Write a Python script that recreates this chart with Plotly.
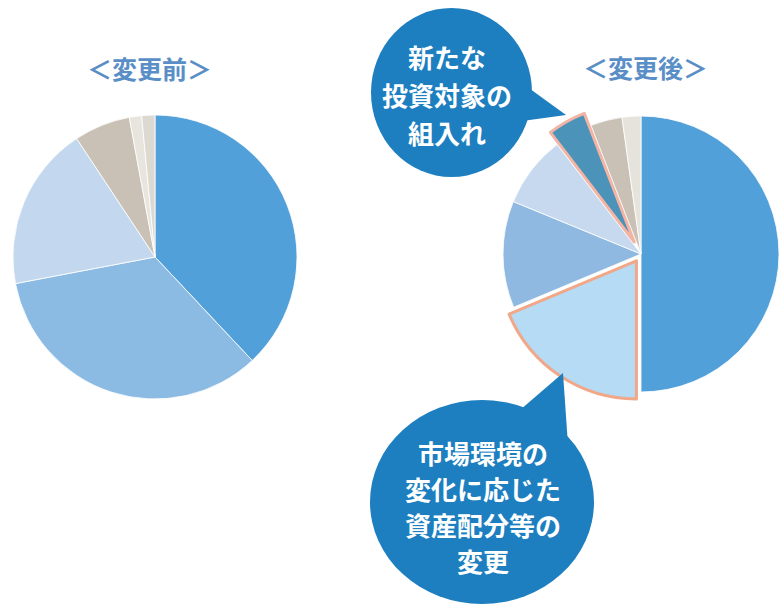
import math
import plotly.graph_objects as go

W, H = 779, 607

# ---------------- data ----------------
left_labels = ["資産A", "資産B", "資産C", "資産D", "資産E", "資産F"]
left_values = [38.0, 34.0, 18.7, 6.4, 1.4, 1.5]
left_colors = ["#52a0d9", "#8bbae3", "#c3d8ee", "#c9c1b5", "#e8e5de", "#dcd9d2"]

right_labels = ["資産A", "資産B", "資産C", "資産D", "新資産", "資産E", "資産F"]
right_values = [50.0, 18.7, 12.5, 8.4, 4.5, 3.7, 2.2]
right_colors = ["#52a0d9", "#b6dbf5", "#8fb9e0", "#c6d9ee", "#4b93b8", "#c9c1b5", "#e6e3dc"]
right_pull = [0, 0.06, 0, 0, 0.10, 0, 0]
highlight_line = ["", "#f0a888", "", "", "#f2b4a4", "", ""]

title_left = "＜変更前＞"
title_right = "＜変更後＞"
bubble_top_lines = ["新たな", "投資対象の", "組入れ"]
bubble_bottom_lines = ["市場環境の", "変化に応じた", "資産配分等の", "変更"]

FONT = "Noto Sans CJK JP"
BUBBLE = "#1d7fc0"


def px(x):
    return min(1.0, max(0.0, x / W))


def py(y):
    return min(1.0, max(0.0, 1 - y / H))


def dom(cx, cy, r):
    return dict(x=[px(cx - r), px(cx + r)], y=[py(cy + r), py(cy - r)])


fig = go.Figure()

# left pie
fig.add_trace(go.Pie(
    labels=left_labels, values=left_values, sort=False, direction="clockwise",
    rotation=0, textinfo="none", hoverinfo="label+percent",
    marker=dict(colors=left_colors, line=dict(color="rgba(255,255,255,0.8)", width=1)),
    domain=dom(155, 257, 142), showlegend=False,
))

# right pie (non-pulled slices)
rcx, rcy, rr = 641, 254, 138
base_colors = [c if p == 0 else "rgba(0,0,0,0)" for c, p in zip(right_colors, right_pull)]
base_lw = [1 if p == 0 else 0 for p in right_pull]
fig.add_trace(go.Pie(
    labels=right_labels, values=right_values, sort=False, direction="clockwise",
    rotation=0, textinfo="none", hoverinfo="label+percent",
    marker=dict(colors=base_colors,
                line=dict(color="rgba(255,255,255,0.8)", width=base_lw)),
    domain=dom(rcx, rcy, rr), showlegend=False,
))

# pulled slices drawn as separate offset traces
total = sum(right_values)
cum = 0.0
for i, (v, p) in enumerate(zip(right_values, right_pull)):
    if p > 0:
        mid = math.radians((cum + v / 2) / total * 360)
        off = p * rr
        cx = rcx + math.sin(mid) * off
        cy = rcy - math.cos(mid) * off
        cols = [right_colors[j] if j == i else "rgba(0,0,0,0)" for j in range(len(right_values))]
        lws = [3 if j == i else 0 for j in range(len(right_values))]
        lcs = [highlight_line[i] if j == i else "rgba(0,0,0,0)" for j in range(len(right_values))]
        fig.add_trace(go.Pie(
            labels=right_labels, values=right_values, sort=False, direction="clockwise",
            rotation=0, textinfo="none", hoverinfo="label+percent",
            marker=dict(colors=cols, line=dict(color=lcs, width=lws)),
            domain=dom(cx, cy, rr), showlegend=False,
        ))
    cum += v

shapes = []
# top bubble
shapes.append(dict(type="circle", xref="paper", yref="paper",
                   x0=px(371), x1=px(532), y0=py(177), y1=py(8),
                   fillcolor=BUBBLE, line=dict(width=0), layer="above"))
shapes.append(dict(type="path", xref="paper", yref="paper",
                   path=f"M {px(515)} {py(78)} L {px(566)} {py(115)} L {px(515)} {py(122)} Z",
                   fillcolor=BUBBLE, line=dict(width=0), layer="above"))
# bottom bubble
shapes.append(dict(type="circle", xref="paper", yref="paper",
                   x0=px(370), x1=px(594), y0=py(604), y1=py(400),
                   fillcolor=BUBBLE, line=dict(width=0), layer="above"))
shapes.append(dict(type="path", xref="paper", yref="paper",
                   path=f"M {px(520)} {py(410)} L {px(563)} {py(373)} L {px(568)} {py(445)} Z",
                   fillcolor=BUBBLE, line=dict(width=0), layer="above"))

annotations = []
annotations.append(dict(text=title_left, x=px(149), y=py(68), xref="paper", yref="paper",
                        showarrow=False,
                        font=dict(family=FONT, size=25, color="#5a8ec6", weight="bold"),
                        xanchor="center", yanchor="middle"))
annotations.append(dict(text=title_right, x=px(645), y=py(67), xref="paper", yref="paper",
                        showarrow=False,
                        font=dict(family=FONT, size=25, color="#5a8ec6", weight="bold"),
                        xanchor="center", yanchor="middle"))
for k, t in enumerate(bubble_top_lines):
    annotations.append(dict(text=t, x=px(447), y=py(57 + 37.5 * k), xref="paper", yref="paper",
                            showarrow=False,
                            font=dict(family=FONT, size=26, color="white", weight="bold"),
                            xanchor="center", yanchor="middle"))
for k, t in enumerate(bubble_bottom_lines):
    annotations.append(dict(text=t, x=px(483), y=py(452 + 36 * k), xref="paper", yref="paper",
                            showarrow=False,
                            font=dict(family=FONT, size=26, color="white", weight="bold"),
                            xanchor="center", yanchor="middle"))

fig.update_layout(
    width=W, height=H, margin=dict(l=0, r=0, t=0, b=0),
    paper_bgcolor="white", plot_bgcolor="white",
    shapes=shapes, annotations=annotations, showlegend=False,
)

fig.write_html("out.html", config={"displayModeBar": False},
               post_script="document.body.style.margin='0px';")
